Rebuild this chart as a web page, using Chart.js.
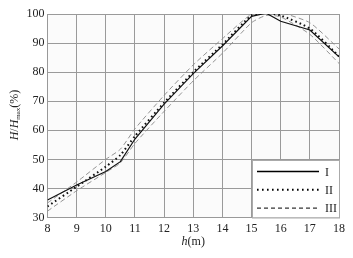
<!DOCTYPE html>
<html>
<head>
<meta charset="utf-8">
<script src="https://cdn.jsdelivr.net/npm/chart.js@4"></script>
<style>
  html, body { margin: 0; padding: 0; background: #fff; }
  #wrap { width: 353px; height: 258px; }
</style>
</head>
<body>
<div id="wrap"><canvas id="chart" width="353" height="258"></canvas></div>
<script>
// values
const hValues = [8, 9, 10, 10.5, 11, 12, 13, 14, 15, 15.5, 16, 17, 18];
const seriesI = [36, 41.2, 45.8, 49.2, 57, 69, 79.5, 89, 99.2, 100.3, 97.5, 94.5, 85.3];
const seriesII = [33.8, 40.6, 47.5, 51.5, 58, 69.5, 80, 89.5, 99.5, 100.5, 99.5, 95, 85.5];
const seriesIIIUpper = [35, 42.2, 50, 53.5, 60.5, 72, 82.5, 91.5, 100, 101, 100.5, 97, 88];
const seriesIIILower = [32.2, 39.2, 45.5, 48.8, 55.5, 66.5, 77, 86.5, 97, 99.5, 99, 93, 83];
const legendLabels = ['I', 'II', 'III'];
const xTicks = [8, 9, 10, 11, 12, 13, 14, 15, 16, 17, 18];
const yTicks = [30, 40, 50, 60, 70, 80, 90, 100];

const serif = '"Liberation Serif", "DejaVu Serif", serif';

function toPoints(values) {
    return hValues.map((h, i) => ({ x: h, y: values[i] }));
}

// draws a run of text pieces with their own fonts, centred on (0,0)
function drawParts(ctx, parts) {
    let total = 0;
    parts.forEach(p => { ctx.font = p.f; total += ctx.measureText(p.t).width; });
    let x = -total / 2;
    ctx.fillStyle = '#222';
    ctx.textBaseline = 'middle';
    ctx.textAlign = 'left';
    parts.forEach(p => {
        ctx.font = p.f;
        ctx.fillText(p.t, x, p.dy);
        x += ctx.measureText(p.t).width;
    });
}

// plot background + custom legend + axis titles
const decorPlugin = {
    id: 'decor',
    beforeDraw(chart) {
        const a = chart.chartArea;
        const ctx = chart.ctx;
        ctx.save();
        ctx.fillStyle = '#fbfbfb';
        ctx.fillRect(a.left, a.top, a.right - a.left, a.bottom - a.top);
        ctx.restore();
    },
    afterDraw(chart) {
        const a = chart.chartArea;
        const ctx = chart.ctx;
        ctx.save();

        // legend box
        const bx = 252, by = 160, bw = a.right - 252, bh = a.bottom - 160;
        ctx.fillStyle = '#fff';
        ctx.fillRect(bx, by, bw, bh);
        ctx.strokeStyle = '#aaa';
        ctx.lineWidth = 1;
        ctx.strokeRect(bx + 0.5, by + 0.5, bw, bh);

        const styles = [
            { dash: [], width: 1.4 },
            { dash: [1.6, 3.4], width: 2 },
            { dash: [4, 3], width: 1 }
        ];
        legendLabels.forEach((lab, i) => {
            const y = 171.5 + i * 18.3;
            ctx.beginPath();
            ctx.setLineDash(styles[i].dash);
            ctx.lineWidth = styles[i].width;
            ctx.strokeStyle = '#000';
            ctx.moveTo(257, y);
            ctx.lineTo(319, y);
            ctx.stroke();
            ctx.setLineDash([]);
            ctx.fillStyle = '#222';
            ctx.font = '12px ' + serif;
            ctx.textBaseline = 'middle';
            ctx.textAlign = 'left';
            ctx.fillText(lab, 325, y + 1);
        });

        // x axis title: h(m)
        ctx.save();
        ctx.translate((a.left + a.right) / 2, 242);
        drawParts(ctx, [
            { t: 'h', f: 'italic 12px ' + serif, dy: 0 },
            { t: '(m)', f: '12px ' + serif, dy: 0 }
        ]);
        ctx.restore();

        // y axis title: H/Hmax(%)
        ctx.translate(15, 115);
        ctx.rotate(-Math.PI / 2);
        drawParts(ctx, [
            { t: 'H', f: 'italic 12px ' + serif, dy: 0 },
            { t: '/', f: '12px ' + serif, dy: 0 },
            { t: 'H', f: 'italic 12px ' + serif, dy: 0 },
            { t: 'max', f: '7px ' + serif, dy: 3 },
            { t: '(%)', f: '12px ' + serif, dy: 0 }
        ]);
        ctx.restore();
    }
};

new Chart(document.getElementById('chart'), {
    type: 'line',
    data: {
        datasets: [
            {
                label: 'I',
                data: toPoints(seriesI),
                borderColor: '#111',
                borderWidth: 1.2,
                pointRadius: 0,
                tension: 0
            },
            {
                label: 'II',
                data: toPoints(seriesII),
                borderColor: '#111',
                borderWidth: 2,
                borderDash: [1.6, 3],
                pointRadius: 0,
                tension: 0.2
            },
            {
                label: 'III',
                data: toPoints(seriesIIIUpper),
                borderColor: '#888',
                borderWidth: 0.9,
                borderDash: [5, 3],
                pointRadius: 0,
                tension: 0.2
            },
            {
                label: 'III ',
                data: toPoints(seriesIIILower),
                borderColor: '#888',
                borderWidth: 0.9,
                borderDash: [5, 3],
                pointRadius: 0,
                tension: 0.2
            }
        ]
    },
    options: {
        responsive: false,
        animation: false,
        layout: { padding: { left: 0, right: 14, top: 14, bottom: 0 } },
        plugins: {
            legend: { display: false },
            tooltip: { enabled: false }
        },
        scales: {
            x: {
                type: 'linear',
                min: 8,
                max: 18,
                afterBuildTicks: axis => { axis.ticks = xTicks.map(v => ({ value: v })); },
                afterFit: axis => { axis.height = 40.5; },
                grid: { color: '#9a9a9a', lineWidth: 1, drawTicks: false },
                border: { color: '#999' },
                ticks: {
                    color: '#222',
                    padding: 4,
                    maxRotation: 0,
                    font: { family: serif, size: 12 }
                }
            },
            y: {
                min: 30,
                max: 100,
                afterBuildTicks: axis => { axis.ticks = yTicks.map(v => ({ value: v })); },
                afterFit: axis => { axis.width = 47.5; },
                grid: { color: '#9a9a9a', lineWidth: 1, drawTicks: false },
                border: { color: '#999' },
                ticks: {
                    color: '#222',
                    padding: 3,
                    font: { family: serif, size: 12 }
                }
            }
        }
    },
    plugins: [decorPlugin]
});
</script>
</body>
</html>
